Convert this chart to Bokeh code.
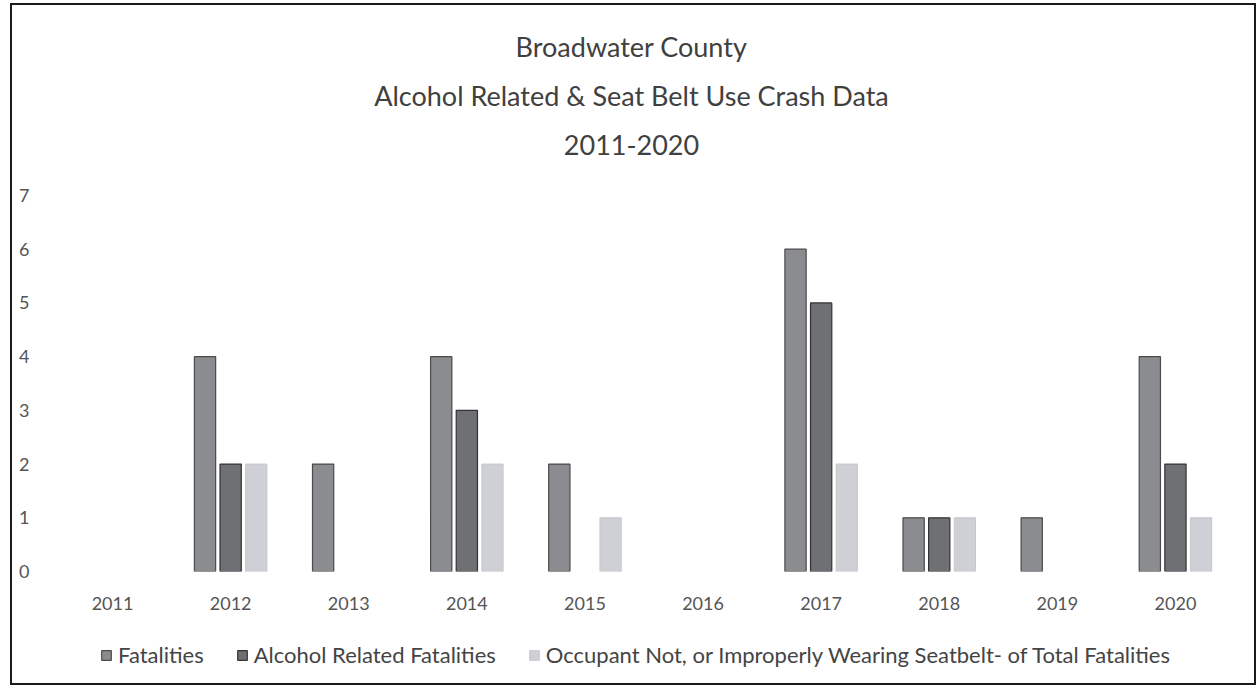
from bokeh.plotting import figure
from bokeh.models import FactorRange, Legend, LegendItem, Label, ColumnDataSource
from bokeh.layouts import column
from bokeh.transform import dodge
from bokeh.embed import file_html
from bokeh.resources import INLINE

years = ["2011", "2012", "2013", "2014", "2015", "2016", "2017", "2018", "2019", "2020"]
fatalities = [0, 4, 2, 4, 2, 0, 6, 1, 1, 4]
alcohol_related = [0, 2, 0, 3, 0, 0, 5, 1, 0, 2]
no_seatbelt = [0, 2, 0, 2, 1, 0, 2, 1, 0, 1]
series_names = [
    "Fatalities",
    "Alcohol Related Fatalities",
    "Occupant Not, or Improperly Wearing Seatbelt- of Total Fatalities",
]
title_lines = ["Broadwater County", "Alcohol Related & Seat Belt Use Crash Data", "2011-2020"]

FONT = "Lato"
W = 1242
offsets = [-0.217, 0.0, 0.217]
styles = [
    dict(fill_color="#8b8c8f", line_color="#4a4a4a", line_width=1.2),
    dict(fill_color="#6f7073", line_color="#333333", line_width=1.2),
    dict(fill_color="#cfd0d5", line_color="#c6c7cc", line_width=1),
]


def nonzero(values):
    # zero counts draw no bar at all
    pairs = [(y, v) for y, v in zip(years, values) if v > 0]
    return ColumnDataSource(dict(year=[y for y, _ in pairs], value=[v for _, v in pairs]))


sources = [nonzero(v) for v in (fatalities, alcohol_related, no_seatbelt)]
x_range = FactorRange(factors=years, range_padding=0)


def blank(height, y_range=(0, 1)):
    f = figure(width=W, height=height, x_range=x_range, y_range=y_range,
               output_backend="svg", toolbar_location=None,
               x_axis_location=None, y_axis_location=None, min_border=0)
    f.outline_line_color = None
    f.grid.grid_line_color = None
    return f


# --- title block (frames in the column share the chart's left edge)
head = blank(170)
for text, y in zip(title_lines, [129, 80, 31]):
    head.add_layout(Label(x=578, y=y, x_units="screen", y_units="screen", text=text,
                          text_font=FONT, text_font_size="27px", text_color="#404040",
                          text_align="center", text_baseline="middle"))

# --- bar chart
p = figure(
    width=W, height=455,
    x_range=x_range, y_range=(0, 7),
    output_backend="svg", toolbar_location=None,
    min_border_left=41, min_border_right=20,
    min_border_top=20, min_border_bottom=59,
)
p.outline_line_color = None
p.xgrid.grid_line_color = None
p.ygrid.grid_line_color = None

for src, off, st in zip(sources, offsets, styles):
    p.vbar(x=dodge("year", off, range=x_range), top="value", width=0.18, source=src, **st)

for ax in (p.xaxis[0], p.yaxis[0]):
    ax.axis_line_color = None
    ax.major_tick_line_color = None
    ax.minor_tick_line_color = None
    ax.major_label_text_font = FONT
    ax.major_label_text_font_size = "18px"
    ax.major_label_text_color = "#555555"
p.yaxis.ticker = list(range(0, 8))
p.yaxis.major_label_standoff = 18
p.xaxis.major_label_standoff = 19

# --- legend strip: same series, viewed above their tops so only the key shows
foot = blank(53, y_range=(10, 11))
keys = [foot.vbar(x=dodge("year", off, range=x_range), top="value", width=0.18, source=src, **st)
        for src, off, st in zip(sources, offsets, styles)]
legend = Legend(
    items=[LegendItem(label=name, renderers=[r]) for name, r in zip(series_names, keys)],
    orientation="horizontal", location=(47, 15),
    label_text_font=FONT, label_text_font_size="22px", label_text_color="#444444",
    glyph_width=12, glyph_height=12, label_standoff=6, spacing=32,
    border_line_color=None, background_fill_alpha=0, margin=0, padding=2,
)
foot.add_layout(legend, "center")

layout = column(head, p, foot, spacing=0)
layout.margin = (5, 0, 0, 12)
layout.styles = {"outline": "2px solid #1a1a1a"}

open("out.html", "w").write(file_html(layout, INLINE))
